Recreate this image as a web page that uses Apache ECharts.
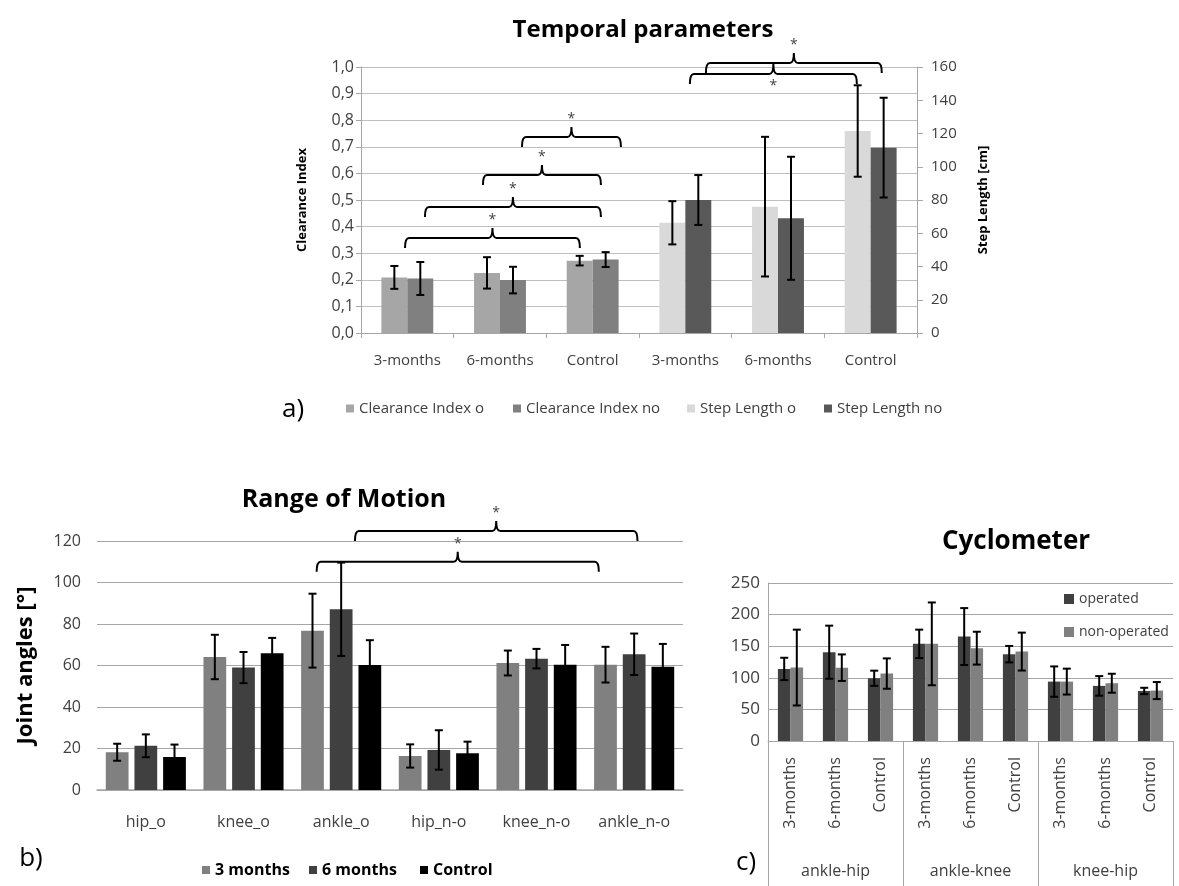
<!DOCTYPE html>
<html lang="en">
<head>
    <meta charset="UTF-8">
    <title>Gait parameters</title>
    <script src="https://cdn.jsdelivr.net/npm/echarts@6/dist/echarts.min.js"></script>
</head>
<style>
    body{
        margin: 0;
        padding: 0;
        background: #fff;
    }
</style>
<body>
<div id="main" style="width: 1179px;height:886px;"></div>
<script>
    // a) temporal parameters
    var tempCats = ['3-months', '6-months', 'Control', '3-months', '6-months', 'Control'];
    var ciO = [0.209, 0.226, 0.272];
    var ciOErr = [0.043, 0.059, 0.018];
    var ciNo = [0.205, 0.199, 0.276];
    var ciNoErr = [0.062, 0.050, 0.028];
    var slO = [66.3, 76, 121.5];      // step length, last three categories
    var slOErr = [13, 42, 27.5];
    var slNo = [80, 69, 111.5];
    var slNoErr = [15, 37, 30];

    // b) range of motion
    var romCats = ['hip_o', 'knee_o', 'ankle_o', 'hip_n-o', 'knee_n-o', 'ankle_n-o'];
    var rom3 = [18.2, 64.1, 76.8, 16.4, 61.2, 60.4];
    var rom3Err = [4.1, 10.7, 17.8, 5.6, 6, 8.6];
    var rom6 = [21.3, 59, 87.1, 19.3, 63.3, 65.4];
    var rom6Err = [5.5, 7.5, 22.5, 9.5, 4.7, 10];
    var romCtrl = [15.9, 65.9, 60.2, 17.7, 60.4, 59.4];
    var romCtrlErr = [6, 7.4, 12, 5.6, 9.5, 11];

    // c) cyclometer
    var cycCats = ['3-months', '6-months', 'Control', '3-months', '6-months', 'Control', '3-months', '6-months', 'Control'];
    var cycGroups = ['ankle-hip', 'ankle-knee', 'knee-hip'];
    var cycOp = [114, 140.5, 99.3, 153.7, 165.3, 137.4, 94, 87.2, 79.2];
    var cycOpErr = [17.7, 42, 12, 22.5, 45, 13, 24, 15.5, 5];
    var cycNon = [116.2, 116, 106.7, 153.7, 146.9, 141.5, 94, 91.4, 79.8];
    var cycNonErr = [60, 21, 24, 65.5, 26, 30, 20.5, 15, 13.5];

    // significance brackets: [from, to, level, star below?]  (from/to in category units)
    var ciBrackets = [[-0.025, 1.862, 0.357], [0.19, 2.089, 0.474], [0.816, 2.089, 0.594], [1.237, 2.305, 0.737]];
    var slBrackets = [[3.049, 4.851, 155.8, 1], [3.222, 5.12, 162.4, 0]];
    var romBrackets = [[1.749, 4.638, 110], [2.141, 5.034, 124.8]];

    var FONT = 'Open Sans';
    var TXT = '#404040';
    var GRID = '#bfbfbf';

    // error bars drawn over bar k of n in each category
    function errorBars(vals, errs, start, n, k, catGap, barGap, xi, yi) {
        var data = vals.map(function (v, i) { return [start + i, v, errs[i]]; });
        return {
            type: 'custom',
            xAxisIndex: xi,
            yAxisIndex: yi,
            z: 5,
            silent: true,
            encode: {x: 0, y: 1},
            data: data,
            renderItem: function (params, api) {
                var idx = api.value(0), v = api.value(1), e = api.value(2);
                var band = api.size([1, 0])[0];
                var bw = band * (1 - catGap) / (n + (n - 1) * barGap);
                var x = api.coord([idx, v])[0] - band * (1 - catGap) / 2 + k * bw * (1 + barGap) + bw / 2;
                var hi = api.coord([idx, v + e])[1];
                var lo = api.coord([idx, v - e])[1];
                var st = {stroke: '#000', lineWidth: 2};
                return {
                    type: 'group',
                    children: [
                        {type: 'line', shape: {x1: x, y1: hi, x2: x, y2: lo}, style: st},
                        {type: 'line', shape: {x1: x - 4, y1: hi, x2: x + 4, y2: hi}, style: st},
                        {type: 'line', shape: {x1: x - 4, y1: lo, x2: x + 4, y2: lo}, style: st}
                    ]
                };
            }
        };
    }

    function brackets(list, xi, yi) {
        return {
            type: 'custom',
            xAxisIndex: xi,
            yAxisIndex: yi,
            clip: false,
            silent: true,
            z: 6,
            encode: {x: 0, y: 3},
            data: list.map(function (b) { return [0, b[0], b[1], b[2], b[3] || 0]; }),
            renderItem: function (params, api) {
                var band = api.size([1, 0])[0];
                var p0 = api.coord([0, api.value(3)]);
                var x1 = p0[0] + api.value(1) * band;
                var x2 = p0[0] + api.value(2) * band;
                var y = p0[1];
                var xm = (x1 + x2) / 2, d = 10, r = 4;
                var path = 'M' + x1 + ',' + (y + d) + ' Q' + x1 + ',' + y + ' ' + (x1 + r) + ',' + y +
                    ' L' + (xm - r) + ',' + y + ' Q' + xm + ',' + y + ' ' + xm + ',' + (y - d) +
                    ' Q' + xm + ',' + y + ' ' + (xm + r) + ',' + y +
                    ' L' + (x2 - r) + ',' + y + ' Q' + x2 + ',' + y + ' ' + x2 + ',' + (y + d);
                var below = api.value(4) === 1;
                return {
                    type: 'group',
                    children: [
                        {type: 'path', shape: {pathData: path}, style: {fill: 'none', stroke: '#000', lineWidth: 2}},
                        {type: 'text', x: xm, y: below ? y + 12 : y - d - 8,
                            style: {text: '*', fill: '#444', font: '14px ' + FONT, align: 'center', verticalAlign: 'middle'}}
                    ]
                };
            }
        };
    }

    function pad3(arr) {
        return ['-', '-', '-'].concat(arr);
    }

    function legendAt(name, x, y, size, bold, box) {
        return {
            data: [name],
            left: x,
            top: y,
            padding: 0,
            icon: 'rect',
            itemWidth: box,
            itemHeight: box,
            selectedMode: false,
            textStyle: {fontFamily: FONT, fontSize: size, fontWeight: bold ? 'bold' : 'normal', color: bold ? '#000' : TXT}
        };
    }

    var chart = echarts.init(document.getElementById('main'));
    var option = {
        animation: false,
        textStyle: {fontFamily: FONT},
        graphic: [
            {type: 'text', x: 643, y: 30, style: {text: 'Temporal parameters', font: 'bold 24px ' + FONT, fill: '#000', align: 'center', verticalAlign: 'middle'}},
            {type: 'text', x: 344, y: 500, style: {text: 'Range of Motion', font: 'bold 25px ' + FONT, fill: '#000', align: 'center', verticalAlign: 'middle'}},
            {type: 'text', x: 1016, y: 542, style: {text: 'Cyclometer', font: 'bold 26px ' + FONT, fill: '#000', align: 'center', verticalAlign: 'middle'}},
            {type: 'text', x: 293, y: 410, style: {text: 'a)', font: '26px ' + FONT, fill: '#000', align: 'center', verticalAlign: 'middle'}},
            {type: 'text', x: 31, y: 859, style: {text: 'b)', font: '26px ' + FONT, fill: '#000', align: 'center', verticalAlign: 'middle'}},
            {type: 'text', x: 746, y: 863, style: {text: 'c)', font: '26px ' + FONT, fill: '#000', align: 'center', verticalAlign: 'middle'}}
        ],
        legend: [
            legendAt('Clearance Index o', 346, 401, 15, false, 8),
            legendAt('Clearance Index no', 513, 401, 15, false, 8),
            legendAt('Step Length o', 687, 401, 15, false, 8),
            legendAt('Step Length no', 824, 401, 15, false, 8),
            legendAt('3 months', 202, 862, 16, true, 8),
            legendAt('6 months', 309, 862, 16, true, 8),
            legendAt('Control', 420, 862, 16, true, 8),
            legendAt('operated', 1064, 592, 14, false, 10),
            legendAt('non-operated', 1064, 625, 14, false, 10)
        ],
        grid: [
            {left: 361, top: 67, width: 556, height: 266, outerBoundsMode: 'none'},
            {left: 97, top: 541, width: 586, height: 249, outerBoundsMode: 'none'},
            {left: 768, top: 583, width: 405, height: 158, outerBoundsMode: 'none'}
        ],
        xAxis: [
            {
                type: 'category', gridIndex: 0, data: tempCats, position: 'bottom',
                axisLine: {lineStyle: {color: '#a6a6a6'}},
                axisTick: {show: true, length: 5, lineStyle: {color: '#a6a6a6'}},
                axisLabel: {margin: 20, fontSize: 15, color: TXT}
            },
            {type: 'category', gridIndex: 0, data: tempCats, position: 'bottom', show: false},
            {
                type: 'category', gridIndex: 1, data: romCats,
                axisLine: {lineStyle: {color: '#a6a6a6', width: 1.5}},
                axisTick: {show: false},
                axisLabel: {margin: 24, fontSize: 16, color: TXT}
            },
            {
                type: 'category', gridIndex: 2, data: cycCats, position: 'bottom',
                axisLine: {lineStyle: {color: '#a6a6a6'}},
                axisTick: {show: false},
                axisLabel: {rotate: 90, margin: 16, fontSize: 16, color: TXT}
            },
            {
                type: 'category', gridIndex: 2, data: cycGroups, position: 'bottom',
                axisLine: {show: false},
                axisTick: {show: true, length: 145, lineStyle: {color: '#a6a6a6'}},
                axisLabel: {margin: 122, fontSize: 16, color: TXT}
            }
        ],
        yAxis: [
            {
                type: 'value', gridIndex: 0, min: 0, max: 1, interval: 0.1,
                name: 'Clearance Index', nameLocation: 'middle', nameGap: 52, nameRotate: 90,
                nameTextStyle: {fontWeight: 'bold', fontSize: 13, color: '#000'},
                axisLine: {show: true, lineStyle: {color: '#a6a6a6'}},
                axisTick: {show: true, length: 5, lineStyle: {color: '#a6a6a6'}},
                axisLabel: {margin: 7, fontSize: 16, color: TXT, formatter: function (v) { return v.toFixed(1).replace('.', ','); }},
                splitLine: {lineStyle: {color: GRID}}
            },
            {
                type: 'value', gridIndex: 0, position: 'right', min: 0, max: 160, interval: 20,
                name: 'Step Length [cm]', nameLocation: 'middle', nameGap: 60, nameRotate: 90,
                nameTextStyle: {fontWeight: 'bold', fontSize: 13, color: '#000'},
                axisLine: {show: true, lineStyle: {color: '#a6a6a6'}},
                axisTick: {show: true, length: 6, lineStyle: {color: '#a6a6a6'}},
                axisLabel: {margin: 14, fontSize: 15, color: TXT},
                splitLine: {show: false}
            },
            {
                type: 'value', gridIndex: 1, min: 0, max: 120, interval: 20,
                name: 'Joint angles [°]', nameLocation: 'middle', nameGap: 60, nameRotate: 90,
                nameTextStyle: {fontWeight: 'bold', fontSize: 22, color: '#000'},
                axisLine: {show: false},
                axisTick: {show: false},
                axisLabel: {margin: 16, fontSize: 16, color: TXT},
                splitLine: {lineStyle: {color: '#a6a6a6'}}
            },
            {
                type: 'value', gridIndex: 2, min: 0, max: 250, interval: 50,
                axisLine: {show: true, lineStyle: {color: '#a6a6a6'}},
                axisTick: {show: false},
                axisLabel: {margin: 8, fontSize: 17, color: TXT},
                splitLine: {lineStyle: {color: '#a6a6a6'}}
            }
        ],
        series: [
            {name: 'Clearance Index o', type: 'bar', xAxisIndex: 0, yAxisIndex: 0, data: ciO, barGap: '0%', barCategoryGap: '44%', itemStyle: {color: '#a6a6a6'}},
            {name: 'Clearance Index no', type: 'bar', xAxisIndex: 0, yAxisIndex: 0, data: ciNo, barGap: '0%', barCategoryGap: '44%', itemStyle: {color: '#808080'}},
            {name: 'Step Length o', type: 'bar', xAxisIndex: 1, yAxisIndex: 1, data: pad3(slO), barGap: '0%', barCategoryGap: '44%', itemStyle: {color: '#d9d9d9'}},
            {name: 'Step Length no', type: 'bar', xAxisIndex: 1, yAxisIndex: 1, data: pad3(slNo), barGap: '0%', barCategoryGap: '44%', itemStyle: {color: '#595959'}},
            errorBars(ciO, ciOErr, 0, 2, 0, 0.44, 0, 0, 0),
            errorBars(ciNo, ciNoErr, 0, 2, 1, 0.44, 0, 0, 0),
            errorBars(slO, slOErr, 3, 2, 0, 0.44, 0, 1, 1),
            errorBars(slNo, slNoErr, 3, 2, 1, 0.44, 0, 1, 1),
            brackets(ciBrackets, 0, 0),
            brackets(slBrackets, 1, 1),

            {name: '3 months', type: 'bar', xAxisIndex: 2, yAxisIndex: 2, data: rom3, barGap: '26%', barCategoryGap: '18%', itemStyle: {color: '#808080'}},
            {name: '6 months', type: 'bar', xAxisIndex: 2, yAxisIndex: 2, data: rom6, barGap: '26%', barCategoryGap: '18%', itemStyle: {color: '#404040'}},
            {name: 'Control', type: 'bar', xAxisIndex: 2, yAxisIndex: 2, data: romCtrl, barGap: '26%', barCategoryGap: '18%', itemStyle: {color: '#000000'}},
            errorBars(rom3, rom3Err, 0, 3, 0, 0.18, 0.26, 2, 2),
            errorBars(rom6, rom6Err, 0, 3, 1, 0.18, 0.26, 2, 2),
            errorBars(romCtrl, romCtrlErr, 0, 3, 2, 0.18, 0.26, 2, 2),
            brackets(romBrackets, 2, 2),

            {name: 'operated', type: 'bar', xAxisIndex: 3, yAxisIndex: 3, data: cycOp, barGap: '0%', barCategoryGap: '44%', itemStyle: {color: '#404040'}},
            {name: 'non-operated', type: 'bar', xAxisIndex: 3, yAxisIndex: 3, data: cycNon, barGap: '0%', barCategoryGap: '44%', itemStyle: {color: '#808080'}},
            errorBars(cycOp, cycOpErr, 0, 2, 0, 0.44, 0, 3, 3),
            errorBars(cycNon, cycNonErr, 0, 2, 1, 0.44, 0, 3, 3)
        ]
    };
    chart.setOption(option);
</script>
</body>
</html>
